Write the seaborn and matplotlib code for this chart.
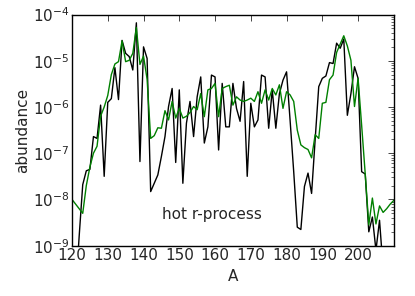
import numpy as np
import pandas as pd
import matplotlib
matplotlib.use("Agg")
import matplotlib.pyplot as plt
import seaborn as sns

# mass numbers and log10(abundance)
mass_number = list(range(120, 211))

black_log = [
    -10.5, -10.0, -8.8, -7.68, -7.38, -7.35, -6.64, -6.68, -5.96, -7.5,
    -5.9, -5.82, -5.15, -5.84, -4.56, -4.84, -4.91, -5.2, -4.18, -7.18,
    -4.7, -4.95, -7.83, -7.65, -7.47, -7.07, -6.64, -5.99, -5.6, -7.2,
    -5.63, -7.65, -6.35, -5.88, -6.64, -5.78, -5.35, -6.78, -6.43, -5.31,
    -5.35, -6.93, -5.49, -6.43, -6.43, -5.49, -6.03, -6.31, -5.45, -7.5,
    -5.92, -6.43, -6.28, -5.31, -5.35, -6.46, -5.63, -6.46, -5.71, -5.42,
    -5.24, -6.3, -7.4, -8.6, -8.65, -7.72, -7.43, -7.87, -6.7, -5.56,
    -5.38, -5.33, -5.04, -5.06, -4.62, -4.73, -4.53, -6.18, -5.71, -5.13,
    -5.38, -7.4, -7.45, -8.7, -8.38, -9.1, -8.45, -9.5, -10.0, -10.0,
    -10.0,
]

green_log = [
    -8.0, -8.1, -8.2, -8.3, -7.7, -7.3, -7.0, -6.85, -6.2, -6.0,
    -5.75, -5.3, -5.07, -5.02, -4.57, -5.02, -4.99, -4.84, -4.28, -5.08,
    -4.9, -5.4, -6.68, -6.62, -6.45, -6.46, -6.08, -6.28, -5.88, -6.24,
    -6.03, -6.24, -6.2, -6.12, -5.99, -6.06, -5.71, -6.21, -5.63, -5.6,
    -5.49, -6.21, -5.6, -5.56, -5.53, -5.96, -5.78, -5.85, -5.88, -5.85,
    -5.81, -5.88, -5.67, -5.92, -5.63, -5.85, -5.6, -5.74, -5.52, -6.03,
    -5.67, -5.74, -5.88, -6.5, -6.82, -6.88, -6.92, -7.1, -6.6, -6.68,
    -5.92, -5.9, -5.41, -5.31, -4.82, -4.64, -4.46, -4.68, -4.99, -5.99,
    -5.38, -6.4, -7.45, -8.55, -7.97, -8.53, -8.14, -8.28, -8.2, -8.1,
    -8.02,
]

x_ticks = [120, 130, 140, 150, 160, 170, 180, 190, 200]

df = pd.DataFrame({
    "A": mass_number,
    "black": 10.0 ** np.array(black_log),
    "green": 10.0 ** np.array(green_log),
})

sns.set_style("white")
plt.rcParams["font.family"] = ["DejaVu Sans"]
plt.rcParams.update({
    "font.size": 11,
    "xtick.direction": "in",
    "ytick.direction": "in",
    "xtick.top": True,
    "ytick.right": True,
    "xtick.major.size": 4,
    "ytick.major.size": 4,
    "xtick.minor.size": 2,
    "ytick.minor.size": 2,
    "xtick.major.width": 0.6,
    "ytick.major.width": 0.6,
    "ytick.minor.width": 0.5,
    "axes.linewidth": 1.0,
    "axes.edgecolor": "black",
})

fig = plt.figure(figsize=(4.15, 2.96), dpi=100)
ax = fig.add_axes([0.1735, 0.170, 0.7755, 0.781])

sns.lineplot(data=df, x="A", y="black", color="black", linewidth=1.0, ax=ax)
sns.lineplot(data=df, x="A", y="green", color="#008000", linewidth=1.0, ax=ax)

ax.set_yscale("log")
ax.set_xlim(120, 210)
ax.set_ylim(1e-9, 1e-4)
ax.set_xticks(x_ticks)
ax.tick_params(axis="both", which="both", labelsize=11, pad=2)
ax.set_xlabel("A", fontsize=11, labelpad=4)
ax.set_ylabel("abundance", fontsize=11, labelpad=2)

ax.text(0.28, 0.133, "hot r-process", transform=ax.transAxes,
        va="center", ha="left", fontsize=11)

fig.savefig("out.png", dpi=100)
